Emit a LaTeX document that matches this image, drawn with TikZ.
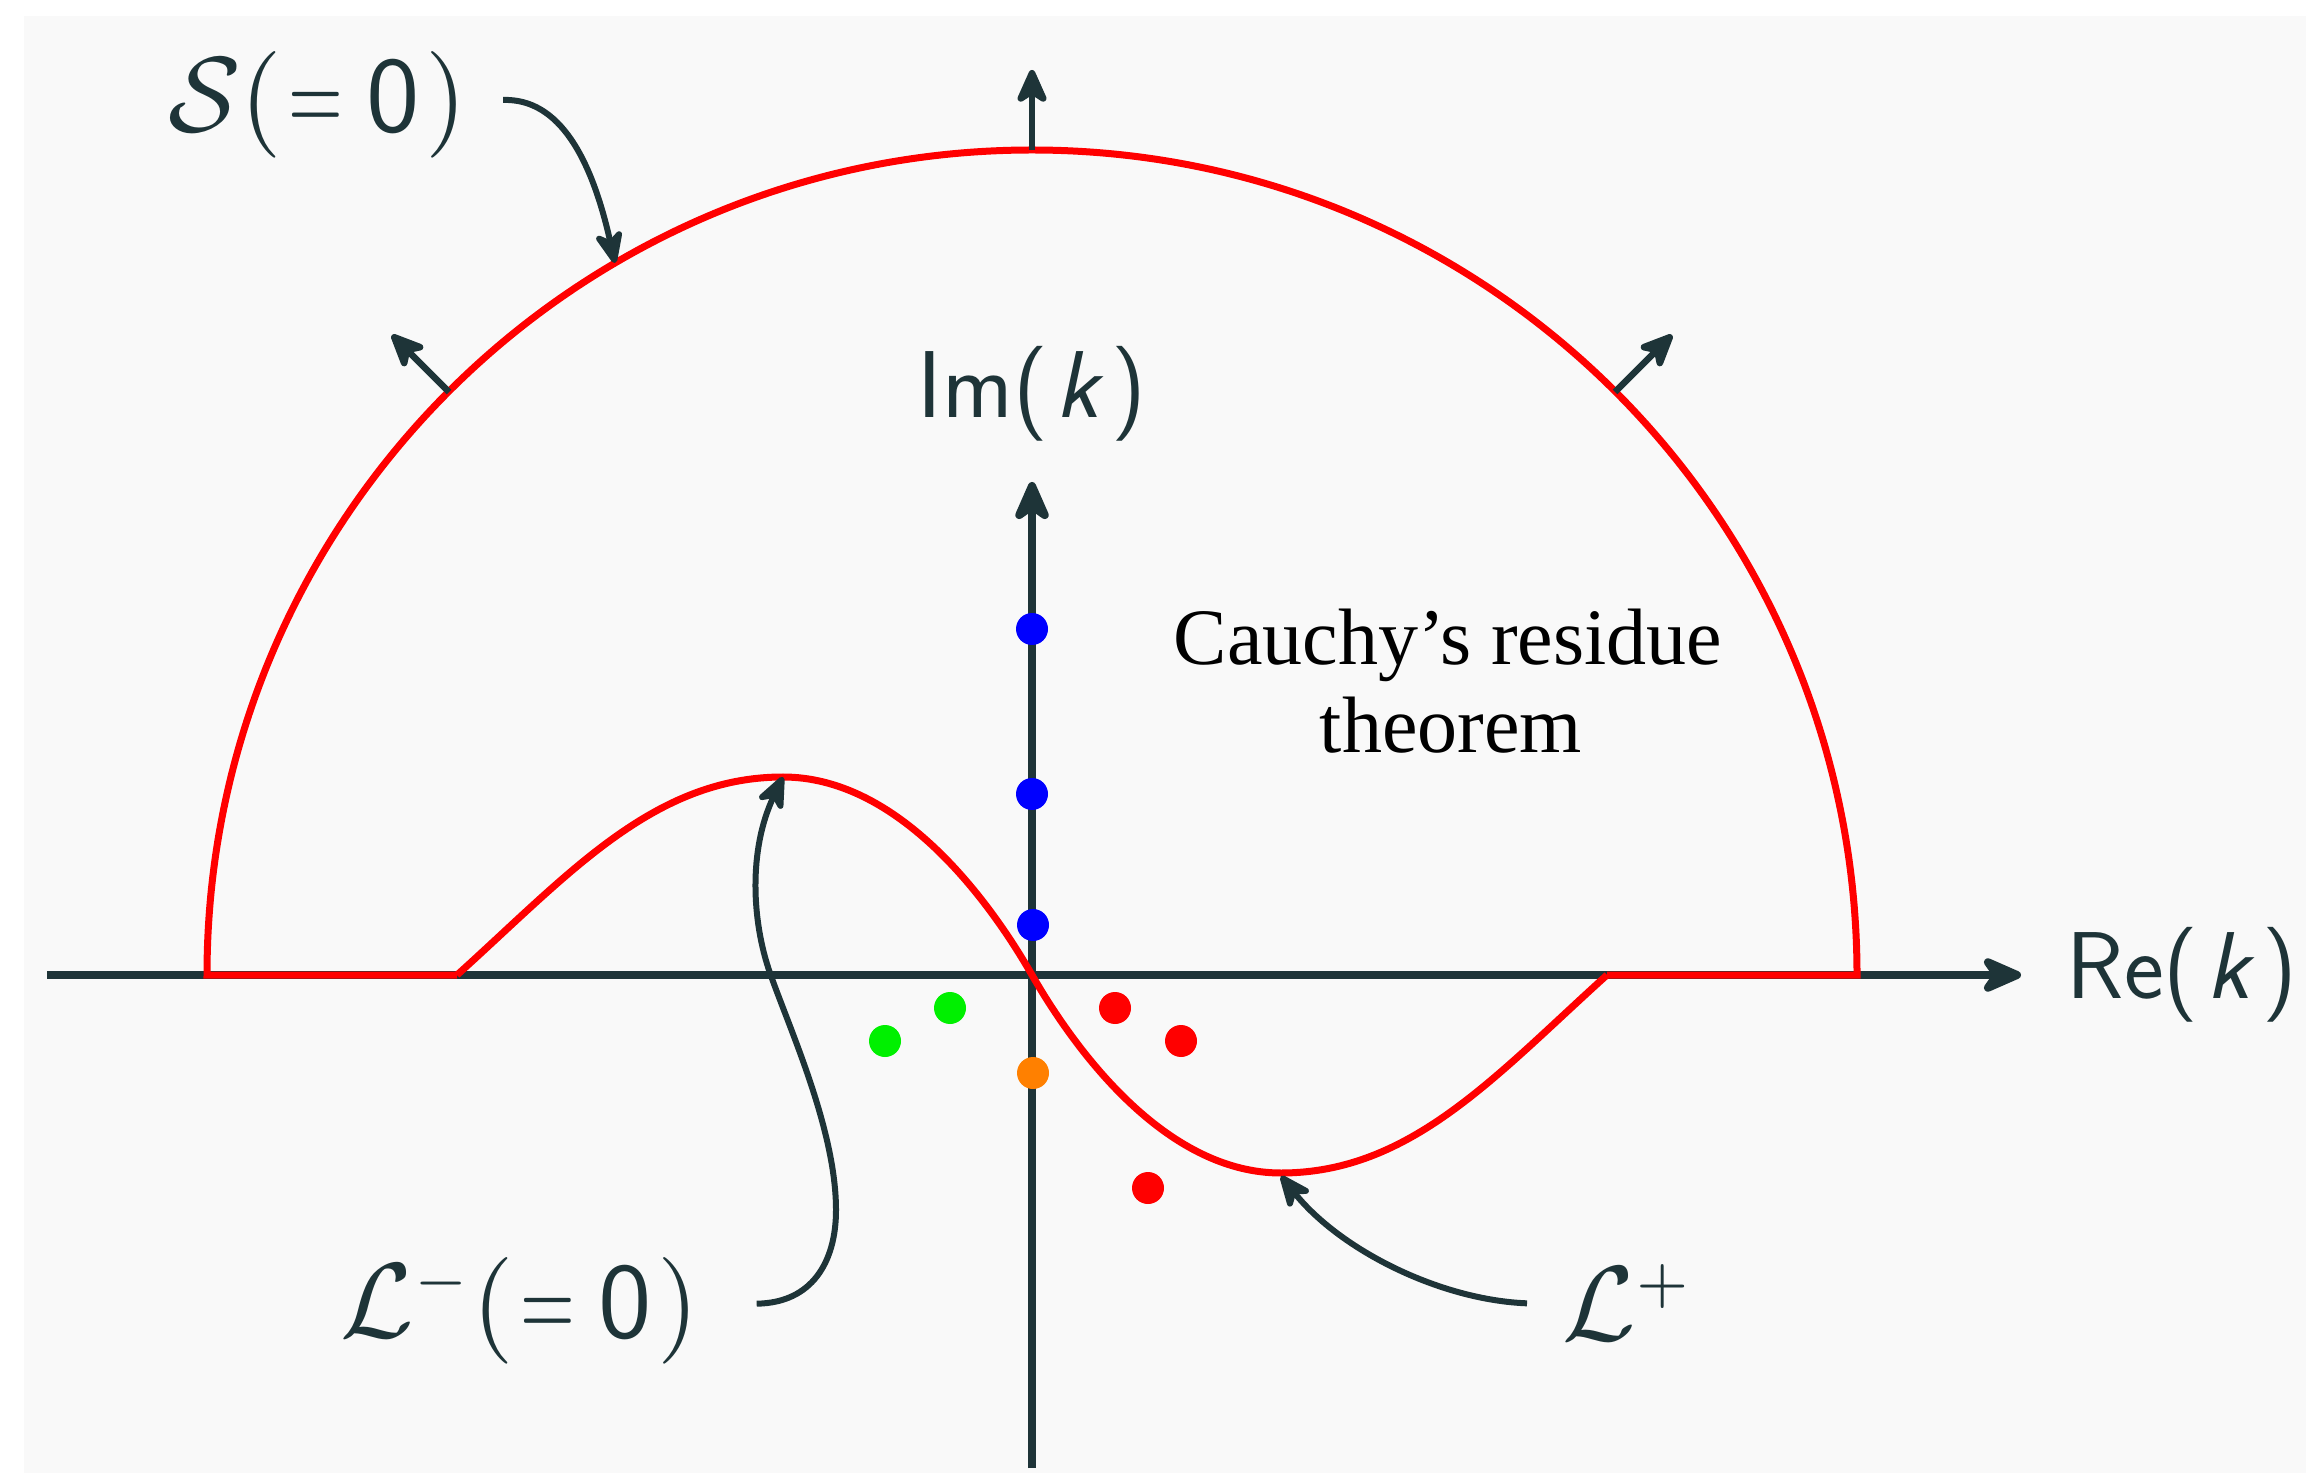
\documentclass[tikz,border=0pt]{standalone}
\usepackage{graphicx}
\usepackage{fontspec}
\newfontfamily\cauchyfont{Liberation Serif}
\usetikzlibrary{arrows.meta}
\definecolor{ink}{RGB}{30,52,56}
\definecolor{panel}{RGB}{249,249,249}
\definecolor{curvered}{RGB}{255,0,0}
\definecolor{dotblue}{RGB}{0,0,255}
\definecolor{dotgreen}{RGB}{0,240,0}
\definecolor{dotred}{RGB}{255,0,0}
\definecolor{dotorange}{RGB}{255,128,0}
\newcommand{\biglbl}[1]{\scalebox{3.2}{#1}}
\newcommand{\narroweq}{\scalebox{0.66}[1]{$=$}}
\newcommand{\eqzero}{(\mkern1mu\narroweq\mkern4mu\mathsf{0}\mkern1mu)}
\newcommand{\supsign}[1]{^{\scalebox{0.8}{$\scriptstyle #1$}}}
\tikzset{
  axisline/.style={ink, line width=2.4pt, -{Stealth[length=15pt,width=13pt,inset=4.5pt,round]}},
  normalarrow/.style={ink, line width=2pt, -{Stealth[length=12.5pt,width=11pt,inset=3.5pt,round]}},
  annot/.style={ink, line width=1.8pt, -{Stealth[length=12pt,width=10pt,inset=3.5pt,round]}},
  contour/.style={curvered, line width=2.1pt},
  pole/.style={circle, inner sep=0pt, minimum size=9.6pt, draw=none},
  lbl/.style={text=ink, inner sep=0pt},
  axlbl/.style={text=ink, inner sep=0pt, font=\fontsize{28.5}{34}\selectfont\sffamily},
  cauchy/.style={text=black, inner sep=0pt, font=\fontsize{24}{28}\selectfont\cauchyfont},
}
\begin{document}
\begin{tikzpicture}[x=0.3pt,y=-0.3pt]
\useasboundingbox (0,0) rectangle (2306,1473);
\fill[white] (0,0) rectangle (2306,1473);
\fill[panel] (24,16) rectangle (2306,1473);

% axes
\draw[axisline] (47,975) -- (2021,975);
\draw[axisline] (1032,1468) -- (1032,482);

% poles
\node[pole, fill=dotblue] (b1) at (1032,629) {};
\node[pole, fill=dotblue] (b2) at (1032,794) {};
\node[pole, fill=dotblue] (b3) at (1033,925) {};
\node[pole, fill=dotgreen] (g1) at (950,1008) {};
\node[pole, fill=dotgreen] (g2) at (885,1041) {};
\node[pole, fill=dotred] (r1) at (1115,1008) {};
\node[pole, fill=dotred] (r2) at (1181,1041) {};
\node[pole, fill=dotred] (r3) at (1148,1188) {};
\node[pole, fill=dotorange] (o1) at (1033,1073) {};

% key points of the contours
\coordinate (Lstart) at (457,975);
\coordinate (Lmax) at (783,777);
\coordinate (O) at (1032,975);
\coordinate (Lmin) at (1281,1173);
\coordinate (Lend) at (1607,975);

% contour S and real-axis pieces
\draw[contour] (Lstart) -- (207,975) arc[start angle=180, end angle=360, radius=825] -- (Lend);
% contour L
\draw[contour] (Lstart) .. controls (568,875) and (653,777) .. (Lmax)
  .. controls (893,777) and (982,888) .. (O)
  .. controls (1082,1062) and (1171,1173) .. (Lmin)
  .. controls (1411,1173) and (1496,1075) .. (Lend);

% outward arrows on S
\coordinate (Ctop) at (1032,150);
\coordinate (Ctopend) at (1032,70);
\coordinate (Cleft) at (449,392);
\coordinate (Cleftend) at (392,335);
\coordinate (Cright) at (1615,392);
\coordinate (Crightend) at (1672,335);
\draw[normalarrow] (Ctop) -- (Ctopend);
\draw[normalarrow] (Cleft) -- (Cleftend);
\draw[normalarrow] (Cright) -- (Crightend);

% axis labels
\node[axlbl, anchor=base west] (re) at (2066,998) {Re(\hspace{0.08em}\textit{k}\hspace{0.08em})};
\node[axlbl, anchor=base] (im) at (1032,418) {Im(\hspace{0.08em}\textit{k}\hspace{0.08em})};

% labels
\node[lbl, anchor=base east] (S) at (468,132) {\biglbl{$\mathcal{S}\eqzero$}};
\node[lbl, anchor=base east] (Lm) at (700,1337) {\biglbl{$\mathcal{L}\supsign{-}\eqzero$}};
\node[lbl, anchor=base west] (Lp) at (1562,1340) {\biglbl{$\mathcal{L}\supsign{+}$}};

\node[cauchy, anchor=base] (c1) at (1448,665) {Cauchy’s residue};
\node[cauchy, anchor=base] (c2) at (1451,753) {theorem};

% annotation arrows
\coordinate (Stip) at (615,263);
\coordinate (La) at (836,1210);
\coordinate (Lb) at (770,973);
\coordinate (Lptip) at (1281,1176);
\draw[annot] ([xshift=10.5pt,yshift=9.6pt]S.base east) .. controls (560,98) and (592,160) .. (Stip);
\draw[annot] ([xshift=17pt,yshift=10pt]Lm.base east) .. controls (812,1303) and (836,1262) .. (La)
  .. controls (836,1130) and (790,1030) .. (Lb)
  .. controls (752,922) and (748,850) .. (Lmax);
\draw[annot] ([xshift=-10.5pt,yshift=11pt]Lp.base west) .. controls (1440,1300) and (1340,1250) .. (Lptip);
\end{tikzpicture}
\end{document}
